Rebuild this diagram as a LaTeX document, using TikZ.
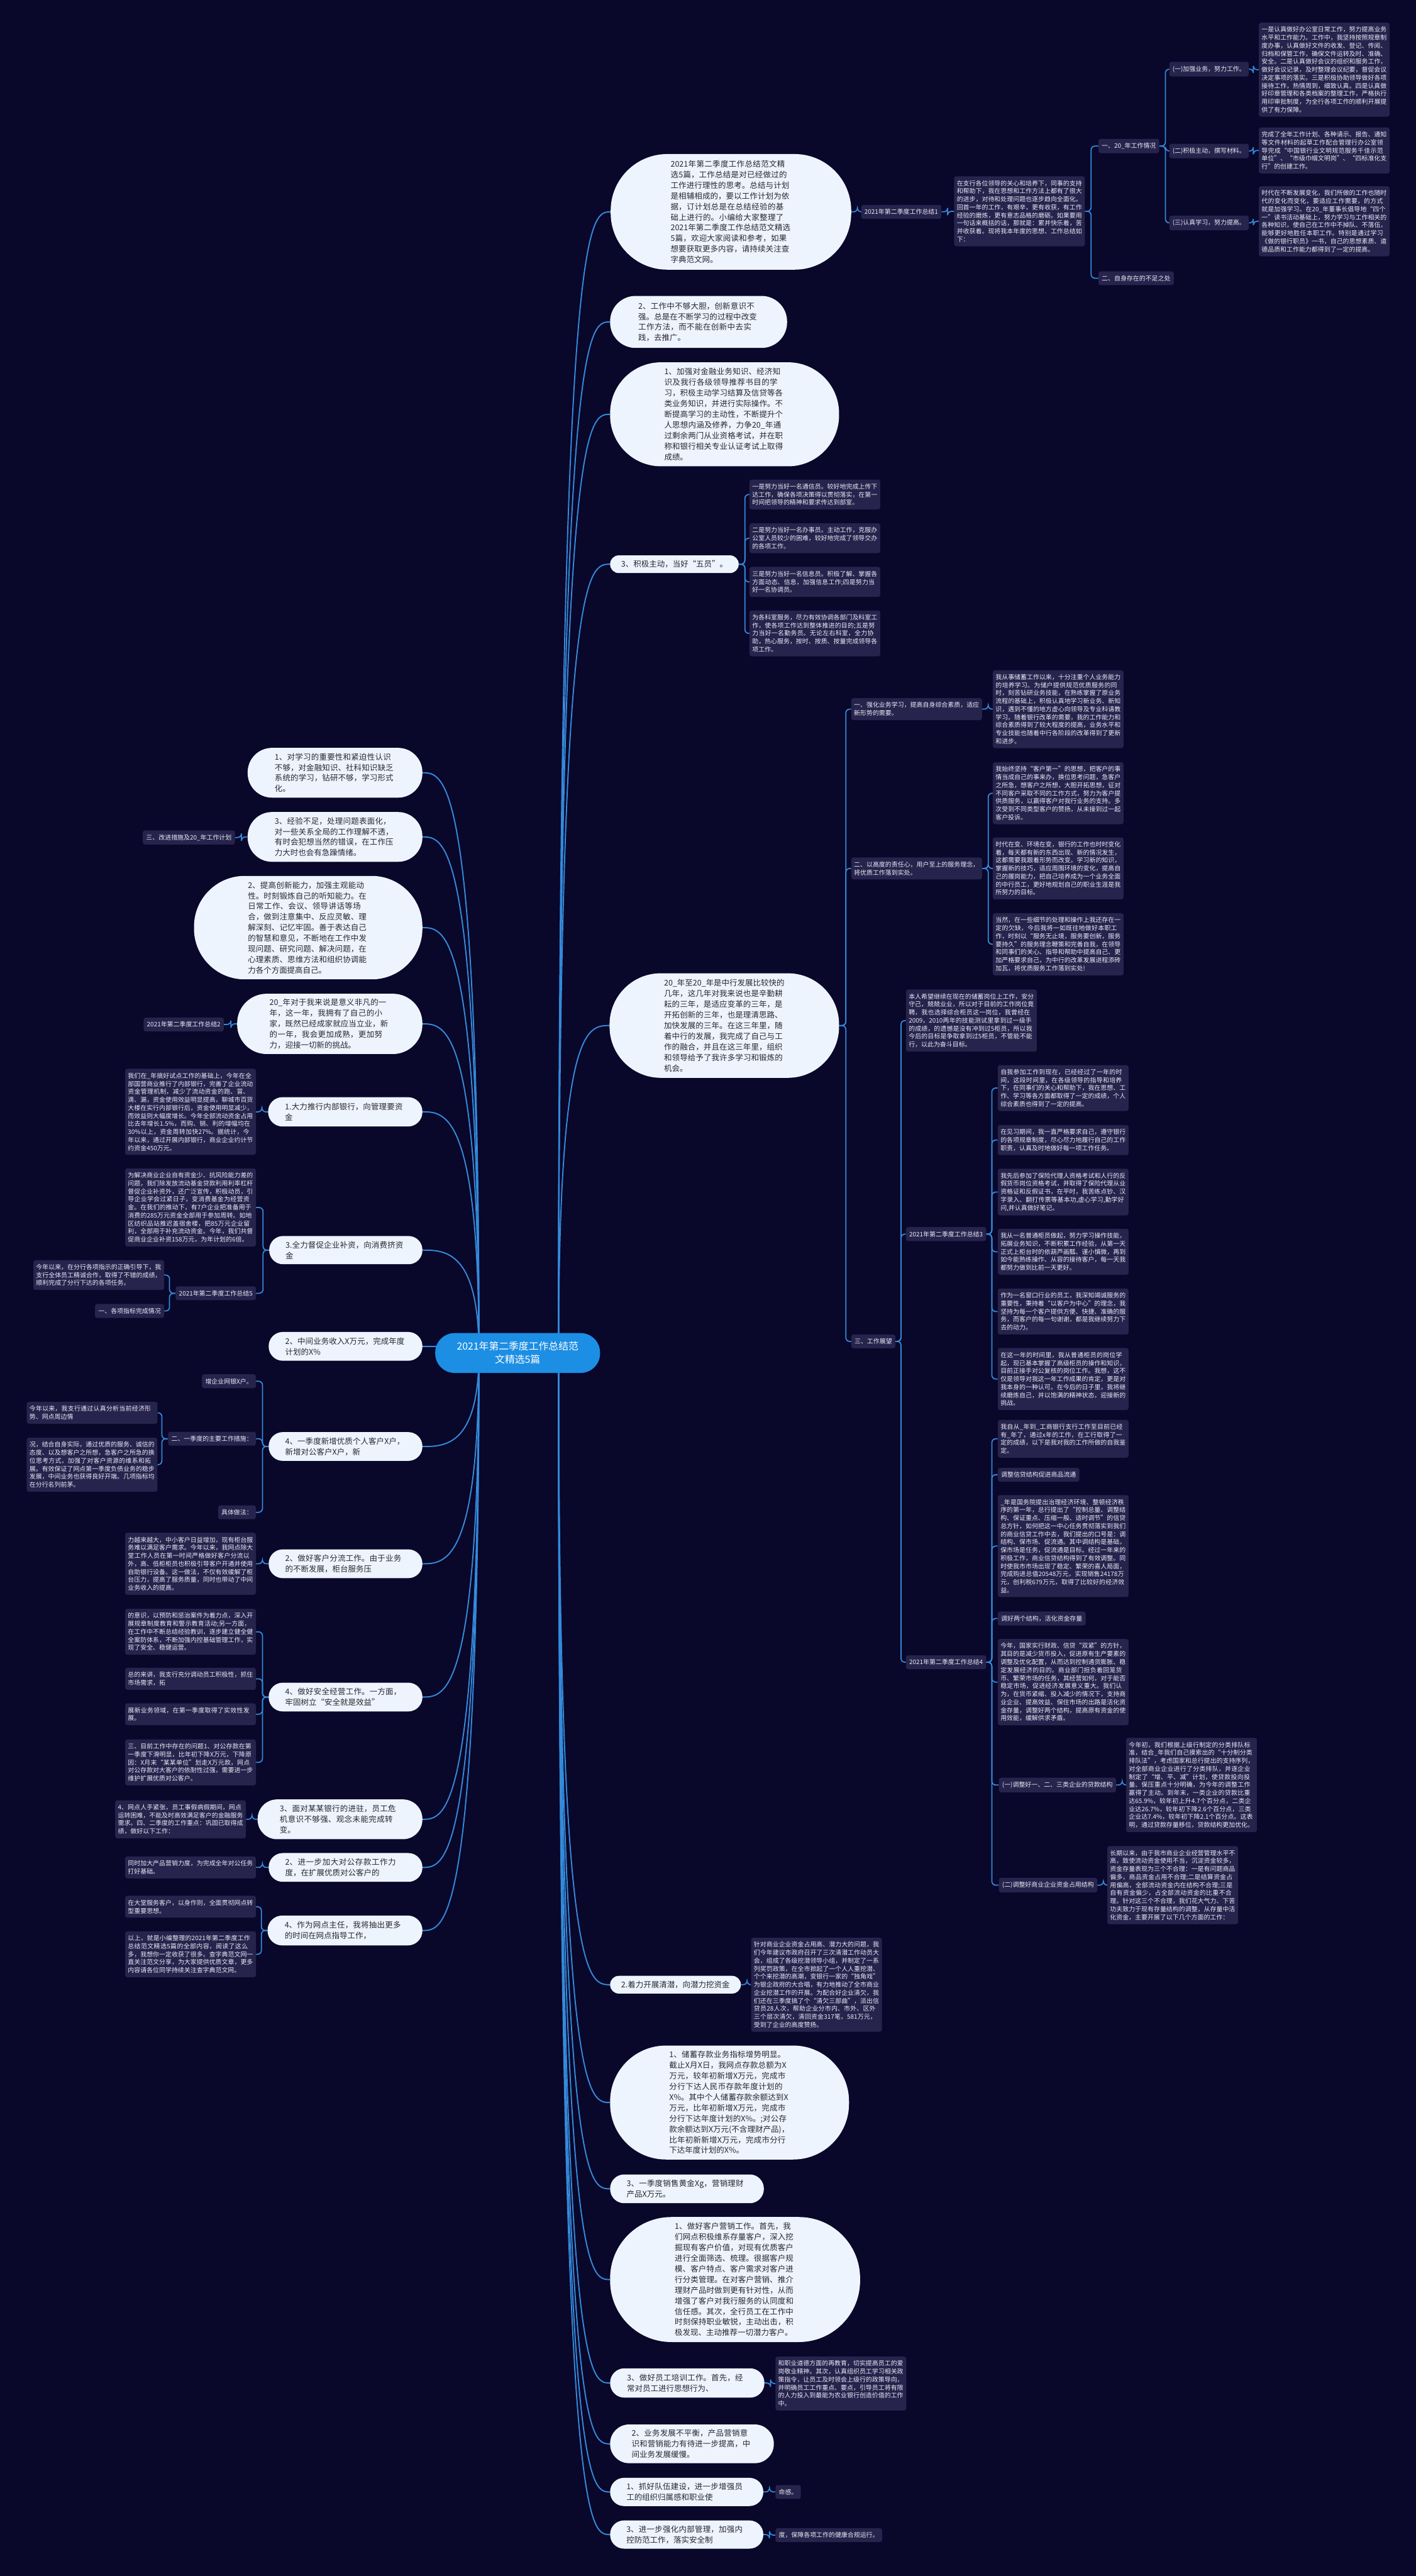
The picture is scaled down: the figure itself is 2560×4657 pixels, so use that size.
\documentclass[tikz,border=0pt]{standalone}
\usepackage{fontspec}
\setmainfont{Noto Sans CJK SC}
\XeTeXlinebreaklocale "zh"
\XeTeXlinebreakskip=0pt plus 1pt

\definecolor{bgnavy}{RGB}{9,7,42}
\definecolor{boxfill}{RGB}{38,35,76}
\definecolor{boxtext}{RGB}{236,236,246}
\definecolor{pillwhite}{RGB}{238,244,253}
\definecolor{pilltext}{RGB}{40,40,48}
\definecolor{linkblue}{RGB}{52,138,218}
\definecolor{hubblue}{RGB}{28,142,228}

\newcommand\smallfont{\fontsize{11.3pt}{14.5pt}\selectfont}
\newcommand\bigfont{\fontsize{14.2pt}{19.2pt}\selectfont}
\newcommand\hubfont{\fontsize{18pt}{24pt}\selectfont}

\pgfdeclarelayer{bg}
\pgfdeclarelayer{links}
\pgfsetlayers{bg,links,main}

\tikzset{every picture/.style={line width=0.75pt}}
\tikzset{
  pillone/.style={rectangle, fill=pillwhite, text=pilltext, font=\bigfont, inner ysep=6pt, minimum height=#1, rounded corners=0.49*#1, inner xsep=0.5*#1+4},
  pill/.style={pillone=#1, align=left, text width=218pt},
  txtbox/.style={rectangle, rounded corners=4pt, fill=boxfill, text=boxtext, font=\smallfont, inner xsep=5pt, inner ysep=7.3pt, align=left, text width=226.5pt},
  lbl/.style={rectangle, rounded corners=4pt, fill=boxfill, text=boxtext, font=\smallfont, inner xsep=6pt, inner ysep=7.3pt},
  link/.style={draw=linkblue, line width=2pt, rounded corners=7pt},
  mainlink/.style={draw=linkblue, line width=2.2pt}
}

\begin{document}
\begin{tikzpicture}[x=1pt,y=1pt,yscale=-1]
\useasboundingbox (0,0) rectangle (2560,4657);
\begin{pgfonlayer}{bg}
\fill[bgnavy] (0,0) rectangle (2560,4657);
\end{pgfonlayer}

% Centre
\node[rectangle, fill=hubblue, text=white, font=\hubfont, align=center, minimum width=298, minimum height=72, rounded corners=35, inner xsep=8, inner ysep=6] (ctr) at (936,2446) {2021年第二季度工作总结范\\文精选5篇};
\coordinate (hubL) at (866,2446);
\coordinate (hubR) at (1010,2446);

% Text Node -- right, summary 1
\node[pill=209, anchor=west] (R1) at (1104,383) {2021年第二季度工作总结范文精选5篇，工作总结是对已经做过的工作进行理性的思考。总结与计划是相辅相成的，要以工作计划为依据，订计划总是在总结经验的基础上进行的。小编给大家整理了2021年第二季度工作总结范文精选5篇，欢迎大家阅读和参考，如果想要获取更多内容，请持续关注查字典范文网。};
\node[lbl, anchor=west] (r1a) at (1557,383) {2021年第二季度工作总结1};
\node[txtbox, anchor=west] (r1b) at (1725,382) {在支行各位领导的关心和培养下，同事的支持和帮助下，我在思想和工作方法上都有了很大的进步，对待和处理问题也逐步趋向全面化。回首一年的工作，有艰辛，更有收获，有工作经验的磨炼，更有意志品格的磨砺。如果要用一句话来概括的话，那就是：累并快乐着，苦并收获着。现将我本年度的思想、工作总结如下：};
\node[lbl, anchor=west] (r1c) at (1986,264) {一、20\_年工作情况};
\node[lbl, anchor=west] (r1d) at (1986,503) {二、自身存在的不足之处};
\node[lbl, anchor=west] (r1e) at (2114,125) {(一)加强业务，努力工作。};
\node[lbl, anchor=west] (r1f) at (2114,273) {(二)积极主动，撰写材料。};
\node[lbl, anchor=west] (r1g) at (2114,403) {(三)认真学习，努力提高。};
\node[txtbox, anchor=west] (r1h) at (2276,126) {一是认真做好办公室日常工作，努力提高业务水平和工作能力。工作中，我坚持按照规章制度办事，认真做好文件的收发、登记、传阅、归档和保管工作，确保文件运转及时、准确、安全。二是认真做好会议的组织和服务工作，做好会议记录，及时整理会议纪要，督促会议决定事项的落实。三是积极协助领导做好各项接待工作，热情周到，细致认真。四是认真做好印章管理和各类档案的整理工作，严格执行用印审批制度，为全行各项工作的顺利开展提供了有力保障。};
\node[txtbox, anchor=west] (r1i) at (2276,272) {完成了全年工作计划、各种请示、报告、通知等文件材料的起草工作配合管理行办公室领导完成“中国银行业文明规范服务千佳示范单位”、“市级巾帼文明岗”、“四标准化支行”的创建工作。};
\node[txtbox, anchor=west] (r1j) at (2276,400) {时代在不断发展变化，我们所做的工作也随时代的变化而变化，要适应工作需要，的方式就是加强学习。在20\_年董事长倡导地“四个一”读书活动基础上，努力学习与工作相关的各种知识，使自己在工作中不掉队、不落伍，能够更好地胜任本职工作。特别是通过学习《做的银行职员》一书，自己的思想素质、道德品质和工作能力都得到了一定的提高。};

% Text Node -- right, upper pills
\node[pill=94, anchor=west] (R2) at (1103,582) {2、工作中不够大胆，创新意识不强。总是在不断学习的过程中改变工作方法，而不能在创新中去实践，去推广。};
\node[pill=188, anchor=west] (R3) at (1103,749) {1、加强对金融业务知识、经济知识及我行各级领导推荐书目的学习，积极主动学习结算及信贷等各类业务知识，并进行实际操作。不断提高学习的主动性，不断提升个人思想内涵及修养，力争20\_年通过剩余两门从业资格考试，并在职称和银行相关专业认证考试上取得成绩。};
\node[pillone=32, anchor=west] (R4) at (1103,1020) {3、积极主动，当好“五员”。};
\node[txtbox, anchor=west] (r4a) at (1355,894) {一是努力当好一名通信员。较好地完成上传下达工作，确保各项决策得以贯彻落实，在第一时间把领导的精神和要求传达到部室。};
\node[txtbox, anchor=west] (r4b) at (1355,973) {二是努力当好一名办事员。主动工作，克服办公室人员较少的困难，较好地完成了领导交办的各项工作。};
\node[txtbox, anchor=west] (r4c) at (1355,1052) {三是努力当好一名信息员。积极了解、掌握各方面动态、信息，加强信息工作;四是努力当好一名协调员。};
\node[txtbox, anchor=west] (r4d) at (1355,1145) {为各科室服务，尽力有效协调各部门及科室工作，使各项工作达到整体推进的目的;五是努力当好一名勤务员。无论左右科室，全力协助，热心服务，按时、按质、按量完成领导各项工作。};

% Text Node -- right, summary 3 and 4
\node[pill=189, anchor=west] (R5) at (1102,1854) {20\_年至20\_年是中行发展比较快的几年，这几年对我来说也是辛勤耕耘的三年，是适应变革的三年，是开拓创新的三年，也是理清思路、加快发展的三年。在这三年里，随着中行的发展，我完成了自己与工作的融合，并且在这三年里，组织和领导给予了我许多学习和锻炼的机会。};
\node[txtbox, anchor=west] (r5a) at (1539,1282) {一、强化业务学习，提高自身综合素质，适应新形势的需要。};
\node[txtbox, anchor=west] (r5a1) at (1795,1282) {我从事储蓄工作以来，十分注重个人业务能力的培养学习。为储户提供规范优质服务的同时，刻苦钻研业务技能，在熟练掌握了原业务流程的基础上，积极认真地学习新业务、新知识，遇到不懂的地方虚心向领导及专业科请教学习。随着银行改革的需要，我的工作能力和综合素质得到了较大程度的提高，业务水平和专业技能也随着中行各阶段的改革得到了更新和进步。};
\node[txtbox, anchor=west] (r5b) at (1539,1570) {二、以高度的责任心，用户至上的服务理念，将优质工作落到实处。};
\node[txtbox, anchor=west] (r5b1) at (1795,1434) {我始终坚持“客户第一”的思想，把客户的事情当成自己的事来办，换位思考问题，急客户之所急，想客户之所想，大胆开拓思想，征对不同客户采取不同的工作方式，努力为客户提供质服务，以赢得客户对我行业务的支持。多次受到不同类型客户的赞扬，从未接到过一起客户投诉。};
\node[txtbox, anchor=west] (r5b2) at (1795,1570) {时代在变、环境在变，银行的工作也时时变化着，每天都有新的东西出现、新的情况发生，这都需要我跟着形势而改变。学习新的知识，掌握新的技巧，适应周围环境的变化，提高自己的履岗能力，把自己培养成为一个业务全面的中行员工，更好地规划自己的职业生涯是我所努力的目标。};
\node[txtbox, anchor=west] (r5b3) at (1795,1707) {当然，在一些细节的处理和操作上我还存在一定的欠缺，今后我将一如既往地做好本职工作，时刻以“服务无止境，服务要创新，服务要持久”的服务理念鞭策和完善自我，在领导和同事们的关心、指导和帮助中提高自己、更加严格要求自己，为中行的改革发展进程添砖加瓦，将优质服务工作落到实处!};
\node[lbl, anchor=west] (r5c) at (1539,2425) {三、工作展望};
\node[txtbox, anchor=west] (r5c1) at (1638,1845) {本人希望继续在现在的储蓄岗位上工作，安分守己，兢兢业业，所以对于目前的工作岗位竟聘，我也选择综合柜员这一岗位，我曾经在2009，2010两年的技能测试里拿到过一级手的成绩，的遗憾是没有冲到过5柜员，所以我今后的目标是争取拿到过5柜员，不管能不能行，以此为奋斗目标。};
\node[lbl, anchor=west] (s3) at (1638,2231) {2021年第二季度工作总结3};
\node[txtbox, anchor=west] (s3a) at (1804,1967) {自我参加工作到现在，已经经过了一年的时间，这段时间里，在各级领导的指导和培养下，在同事们的关心和帮助下，我在思想、工作、学习等各方面都取得了一定的成绩，个人综合素质也得到了一定的提高。};
\node[txtbox, anchor=west] (s3b) at (1804,2061) {在见习期间，我一直严格要求自己，遵守银行的各项规章制度，尽心尽力地履行自己的工作职责，认真及时地做好每一项工作任务。};
\node[txtbox, anchor=west] (s3c) at (1804,2155) {我先后参加了保险代理人资格考试和人行的反假货币岗位资格考试，并取得了保险代理从业资格证和反假证书，在平时，我苦练点钞、汉字录入、翻打传票等基本功,虚心学习,勤学好问,并认真做好笔记。};
\node[txtbox, anchor=west] (s3d) at (1804,2263) {我从一名普通柜员做起，努力学习操作技能，拓展业务知识，不断积累工作经验，从第一天正式上柜台时的依葫芦画瓢、谨小慎微，再到如今能熟练操作、从容的接待客户，每一天我都努力做到比前一天更好。};
\node[txtbox, anchor=west] (s3e) at (1804,2371) {作为一名窗口行业的员工，我深知竭诚服务的重要性，秉持着“以客户为中心”的理念，我坚持为每一个客户提供方便、快捷、准确的服务，而客户的每一句谢谢，都是我继续努力下去的动力。};
\node[txtbox, anchor=west] (s3f) at (1804,2493) {在这一年的时间里，我从普通柜员的岗位学起，现已基本掌握了高级柜员的操作和知识，目前正接手对公复核的岗位工作。我想，这不仅是领导对我这一年工作成果的肯定，更是对我本身的一种认可。在今后的日子里，我将继续磨炼自己，并以饱满的精神状态，迎接新的挑战。};
\node[lbl, anchor=west] (s4) at (1638,3005) {2021年第二季度工作总结4};
\node[txtbox, anchor=west] (s4a) at (1804,2601) {我自从\_年到\_工商银行支行工作至目前已经有\_年了，通过x年的工作，在工行取得了一定的成绩，以下是我对我的工作所做的自我鉴定。};
\node[lbl, anchor=west] (s4b) at (1804,2666) {调整信贷结构促进商品流通};
\node[txtbox, anchor=west] (s4c) at (1804,2795) {\_年是国务院提出治理经济环境、整顿经济秩序的第一年，总行提出了“控制总量、调整结构、保证重点、压缩一般、适时调节”的信贷总方针，如何把这一中心任务贯彻落实到我们的商业信贷工作中去，我们提出的口号是：调结构、保市场、促流通。其中调结构是基础，保市场是任务，促流通是目标。经过一年来的积极工作，商业信贷结构得到了有效调整。同时使我市市场出现了稳定、繁荣的喜人局面，完成购进总值20548万元，实现销售24178万元，创利税679万元，取得了比较好的经济效益。};
\node[lbl, anchor=west] (s4d) at (1804,2926) {调好两个结构，活化资金存量};
\node[txtbox, anchor=west] (s4e) at (1804,3041) {今年，国家实行财政、信贷“双紧”的方针，其目的是减少货币投入，促进原有生产要素的调整及优化配置，从而达到控制通货膨胀、稳定发展经济的目的。商业部门担负着回笼货币、繁荣市场的任务，其经营如何，对于能否稳定市场，促进经济发展意义重大。我们认为，在货币紧缩、投入减少的情况下，支持商业企业、提高效益、保住市场的出路是活化资金存量，调整好两个结构，提高原有资金的使用效能，缓解供求矛盾。};
\node[lbl, anchor=west] (s4f) at (1806,3227) {(一)调整好一、二、三类企业的贷款结构};
\node[txtbox, anchor=west] (s4f1) at (2036,3227) {今年初，我们根据上级行制定的分类排队标准，结合\_年我们自己摸索出的“十分制分类排队法”，考虑国家和总行提出的支持序列，对全部商业企业进行了分类排队，并逐企业制定了“增、平、减”计划，使贷款投向投量、保压重点十分明确，为今年的调整工作赢得了主动。到年末，一类企业的贷款比重达65.9\%，较年初上升4.7个百分点，二类企业达26.7\%，较年初下降2.6个百分点，三类企业达7.4\%，较年初下降2.1个百分点。这表明，通过贷款存量移位，贷款结构更加优化。};
\node[lbl, anchor=west] (s4g) at (1806,3408) {(二)调整好商业企业资金占用结构};
\node[txtbox, anchor=west] (s4g1) at (2002,3408) {长期以来，由于我市商业企业经营管理水平不高，致使流动资金使用不当，沉淀资金较多，资金存量表现为三个不合理：一是有问题商品偏多，商品资金占用不合理;二是结算资金占用偏高，全部流动资金内在结构不合理;三是自有资金偏少，占全部流动资金的比重不合理。针对这三个不合理，我们花大气力、下苦功夫致力于现有存量结构的调整，从存量中活化资金，主要开展了以下几个方面的工作：};

% Text Node -- right, lower pills
\node[pillone=32, anchor=west] (R6) at (1103,3588) {2.着力开展清潜，向潜力挖资金};
\node[txtbox, anchor=west] (r6a) at (1358,3588) {针对商业企业资金占用高、潜力大的问题，我们今年建议市政府召开了三次清潜工作动员大会，组成了各级挖潜领导小组，并制定了一系列奖罚政策，在全市掀起了一个人人重挖潜、个个来挖潜的高潮，变银行一家的“独角戏”为银企政府的大合唱，有力地推动了全市商业企业挖潜工作的开展。为配合好企业清欠，我们还在三季度搞了个“清欠三部曲”，派出信贷员28人次，帮助企业分市内、市外、区外三个层次清欠，清回资金317笔，581万元，受到了企业的高度赞扬。};
\node[pill=206, anchor=west] (R7) at (1103,3801) {1、储蓄存款业务指标增势明显。截止X月X日，我网点存款总额为X万元，较年初新增X万元，完成市分行下达人民币存款年度计划的X\%。其中个人储蓄存款余额达到X万元，比年初新增X万元，完成市分行下达年度计划的X\%。;对公存款余额达到X万元(不含理财产品)，比年初新新增X万元，完成市分行下达年度计划的X\%。};
\node[pill=52, anchor=west] (R8) at (1103,3957) {3、一季度销售黄金Xg，营销理财产品X万元。};
\node[pill=226, anchor=west] (R9) at (1103,4121) {1、做好客户营销工作。首先，我们网点积极维系存量客户，深入挖掘现有客户价值，对现有优质客户进行全面筛选、梳理。很据客户规模、客户特点、客户需求对客户进行分类管理。在对客户营销、推介理财产品时做到更有针对性，从而增强了客户对我行服务的认同度和信任感。其次，全行员工在工作中时刻保持职业敏锐，主动出击，积极发现、主动推荐一切潜力客户。};
\node[pill=53, anchor=west] (R10) at (1103,4308) {3、做好员工培训工作。首先，经常对员工进行思想行为、};
\node[txtbox, anchor=west] (r10a) at (1402,4309) {和职业道德方面的再教育，切实提高员工的爱岗敬业精神。其次，认真组织员工学习相关政策指令，让员工及时领会上级行的政策导向，并明确员工工作重点、要点，引导员工将有限的人力投入到最能为农业银行创造价值的工作中。};
\node[pill=70, anchor=west] (R11) at (1103,4418) {2、业务发展不平衡，产品营销意识和营销能力有待进一步提高，中间业务发展缓慢。};
\node[pill=51, anchor=west] (R12) at (1103,4505) {1、抓好队伍建设，进一步增强员工的组织归属感和职业使};
\node[lbl, anchor=west] (r12a) at (1402,4505) {命感。};
\node[pill=51, anchor=west] (R13) at (1103,4582) {3、进一步强化内部管理，加强内控防范工作，落实安全制};
\node[lbl, anchor=west] (r13a) at (1402,4583) {度，保障各项工作的健康合规运行。};

% Text Node -- left
\node[pill=90, anchor=east] (L1) at (764,1397) {1、对学习的重要性和紧迫性认识不够，对金融知识、社科知识缺乏系统的学习，钻研不够，学习形式化。};
\node[pill=90, anchor=east] (L2) at (764,1513) {3、经验不足，处理问题表面化，对一些关系全局的工作理解不透，有时会犯想当然的错误，在工作压力大时也会有急躁情绪。};
\node[lbl, anchor=east] (l2a) at (425,1514) {三、改进措施及20\_年工作计划};
\node[pill=187, anchor=east] (L3) at (764,1677) {2、提高创新能力，加强主观能动性。时刻锻炼自己的听知能力。在日常工作、会议、领导讲话等场合，做到注意集中、反应灵敏、理解深刻、记忆牢固。善于表达自己的智慧和意见，不断地在工作中发现问题、研究问题、解决问题，在心理素质、思维方法和组织协调能力各个方面提高自己。};
\node[pill=109, anchor=east] (L4) at (764,1851) {20\_年对于我来说是意义非凡的一年，这一年，我拥有了自己的小家，既然已经成家就应当立业，新的一年，我会更加成熟，更加努力，迎接一切新的挑战。};
\node[lbl, anchor=east] (l4a) at (405,1852) {2021年第二季度工作总结2};
\node[pill=53, anchor=east] (L5) at (764,2010) {1.大力推行内部银行，向管理要资金};
\node[txtbox, anchor=east] (l5a) at (463,2010) {我们在\_年搞好试点工作的基础上，今年在全部国营商业推行了内部银行，完善了企业流动资金管理机制，减少了流动资金的跑、冒、滴、漏，资金使用效益明显提高，聊城市百货大楼在实行内部银行后，资金使用明显减少，而效益则大幅度增长。今年全部流动资金占用比去年增长1.5\%，而购、销、利的增幅均在30\%以上，资金周转加快27\%。据统计，今年以来，通过开展内部银行，商业企业约计节约资金450万元。};
\node[pill=51, anchor=east] (L6) at (764,2260) {3.全力督促企业补资，向消费挤资金};
\node[txtbox, anchor=east] (l6a) at (463,2183) {为解决商业企业自有资金少、抗风险能力差的问题，我们除发放流动基金贷款利用利率杠杆督促企业补资外，还广泛宣传，积极动员，引导企业学会过紧日子，变消费基金为经营资金。在我们的推动下，有7户企业把准备用于消费的285万元资金全部用于参加周转。如地区纺织品站推迟盖宿舍楼，把85万元企业留利，全部用于补充流动资金。今年，我们共督促商业企业补资158万元，为年计划的6倍。};
\node[lbl, anchor=east] (l6b) at (463,2338) {2021年第二季度工作总结5};
\node[txtbox, anchor=east] (l6b1) at (297,2305) {今年以来，在分行各项指示的正确引导下，我支行全体员工精诚合作，取得了不错的成绩，顺利完成了分行下达的各项任务。};
\node[lbl, anchor=east] (l6b2) at (297,2370) {一、各项指标完成情况};
\node[pill=52, anchor=east] (L7) at (764,2434) {2、中间业务收入X万元，完成年度计划的X\%};
\node[pill=52, anchor=east] (L8) at (764,2615) {4、一季度新增优质个人客户X户，新增对公客户X户，新};
\node[lbl, anchor=east] (l8a) at (463,2497) {增企业网银X户。};
\node[lbl, anchor=east] (l8b) at (463,2601) {二、一季度的主要工作措施：};
\node[lbl, anchor=east] (l8c) at (463,2734) {具体做法：};
\node[txtbox, anchor=east] (l8b1) at (285,2554) {今年以来，我支行通过认真分析当前经济形势、网点周边情};
\node[txtbox, anchor=east] (l8b2) at (285,2648) {况，结合自身实际，通过优质的服务、诚信的态度、以及想客户之所想，急客户之所急的换位思考方式，加强了对客户资源的维系和拓展。有效保证了网点第一季度负债业务的稳步发展，中间业务也获得良好开端。几项指标均在分行名列前茅。};
\node[pill=52, anchor=east] (L9) at (764,2827) {2、做好客户分流工作。由于业务的不断发展，柜台服务压};
\node[txtbox, anchor=east] (l9a) at (463,2827) {力越来越大，中小客户日益增加，现有柜台服务难以满足客户需求。今年以来，我网点除大堂工作人员在第一时间严格做好客户分流以外，高、低柜柜员也积极引导客户开通并使用自助银行设备。这一做法，不仅有效缓解了柜台压力，提高了服务质量，同时也带动了中间业务收入的提高。};
\node[pill=52, anchor=east] (L10) at (764,3068) {4、做好安全经营工作。一方面，牢固树立“安全就是效益”};
\node[txtbox, anchor=east] (l10a) at (463,2950) {的意识，以预防和惩治案件为着力点，深入开展规章制度教育和警示教育活动;另一方面，在工作中不断总结经验教训，逐步建立健全健全案防体系，不断加强内控基础管理工作，实现了安全、稳健运营。};
\node[txtbox, anchor=east] (l10b) at (463,3035) {总的来讲，我支行充分调动员工积极性，抓住市场需求，拓};
\node[txtbox, anchor=east] (l10c) at (463,3099) {展新业务领域，在第一季度取得了实效性发展。};
\node[txtbox, anchor=east] (l10d) at (463,3186) {三、目前工作中存在的问题1、对公存款在第一季度下滑明显，比年初下降X万元，下降原因：X月末“某某单位”划走X万元款，网点对公存款对大客户的依耐性过强，需要进一步维护扩展优质对公客户。};
\node[pill=72, anchor=east] (L11) at (764,3289) {3、面对某某银行的进驻，员工危机意识不够强、观念未能完成转变。};
\node[txtbox, anchor=east] (l11a) at (445,3289) {4、网点人手紧张，员工事假病假期间，网点运转困难，不能及时高效满足客户的金融服务需求。四、二季度的工作重点：巩固已取得成绩，做好以下工作：};
\node[pill=52, anchor=east] (L12) at (764,3376) {2、进一步加大对公存款工作力度，在扩展优质对公客户的};
\node[txtbox, anchor=east] (l12a) at (463,3376) {同时加大产品营销力度，为完成全年对公任务打好基础。};
\node[pill=54, anchor=east] (L13) at (764,3490) {4、作为网点主任，我将抽出更多的时间在网点指导工作，};
\node[txtbox, anchor=east] (l13a) at (463,3447) {在大堂服务客户，以身作则，全面贯彻网点转型重要思想。};
\node[txtbox, anchor=east] (l13b) at (463,3533) {以上，就是小编整理的2021年第二季度工作总结范文精选5篇的全部内容，阅读了这么多，我想你一定收获了很多。查字典范文网一直关注范文分享，为大家提供优质文章，更多内容请各位同学持续关注查字典范文网。};

\begin{pgfonlayer}{links}
%Curve Lines -- centre to right
\draw[mainlink] (hubR) .. controls (hubR |- R1.west) and ([xshift=-40pt]R1.west) .. (R1.west);
\draw[mainlink] (hubR) .. controls (hubR |- R2.west) and ([xshift=-40pt]R2.west) .. (R2.west);
\draw[mainlink] (hubR) .. controls (hubR |- R3.west) and ([xshift=-40pt]R3.west) .. (R3.west);
\draw[mainlink] (hubR) .. controls (hubR |- R4.west) and ([xshift=-40pt]R4.west) .. (R4.west);
\draw[mainlink] (hubR) .. controls (hubR |- R5.west) and ([xshift=-40pt]R5.west) .. (R5.west);
\draw[mainlink] (hubR) .. controls (hubR |- R6.west) and ([xshift=-40pt]R6.west) .. (R6.west);
\draw[mainlink] (hubR) .. controls (hubR |- R7.west) and ([xshift=-40pt]R7.west) .. (R7.west);
\draw[mainlink] (hubR) .. controls (hubR |- R8.west) and ([xshift=-40pt]R8.west) .. (R8.west);
\draw[mainlink] (hubR) .. controls (hubR |- R9.west) and ([xshift=-40pt]R9.west) .. (R9.west);
\draw[mainlink] (hubR) .. controls (hubR |- R10.west) and ([xshift=-40pt]R10.west) .. (R10.west);
\draw[mainlink] (hubR) .. controls (hubR |- R11.west) and ([xshift=-40pt]R11.west) .. (R11.west);
\draw[mainlink] (hubR) .. controls (hubR |- R12.west) and ([xshift=-40pt]R12.west) .. (R12.west);
\draw[mainlink] (hubR) .. controls (hubR |- R13.west) and ([xshift=-40pt]R13.west) .. (R13.west);
%Curve Lines -- centre to left
\draw[mainlink] (hubL) .. controls (hubL |- L1.east) and ([xshift=40pt]L1.east) .. (L1.east);
\draw[mainlink] (hubL) .. controls (hubL |- L2.east) and ([xshift=40pt]L2.east) .. (L2.east);
\draw[mainlink] (hubL) .. controls (hubL |- L3.east) and ([xshift=40pt]L3.east) .. (L3.east);
\draw[mainlink] (hubL) .. controls (hubL |- L4.east) and ([xshift=40pt]L4.east) .. (L4.east);
\draw[mainlink] (hubL) .. controls (hubL |- L5.east) and ([xshift=40pt]L5.east) .. (L5.east);
\draw[mainlink] (hubL) .. controls (hubL |- L6.east) and ([xshift=40pt]L6.east) .. (L6.east);
\draw[mainlink] (hubL) .. controls (hubL |- L7.east) and ([xshift=40pt]L7.east) .. (L7.east);
\draw[mainlink] (hubL) .. controls (hubL |- L8.east) and ([xshift=40pt]L8.east) .. (L8.east);
\draw[mainlink] (hubL) .. controls (hubL |- L9.east) and ([xshift=40pt]L9.east) .. (L9.east);
\draw[mainlink] (hubL) .. controls (hubL |- L10.east) and ([xshift=40pt]L10.east) .. (L10.east);
\draw[mainlink] (hubL) .. controls (hubL |- L11.east) and ([xshift=40pt]L11.east) .. (L11.east);
\draw[mainlink] (hubL) .. controls (hubL |- L12.east) and ([xshift=40pt]L12.east) .. (L12.east);
\draw[mainlink] (hubL) .. controls (hubL |- L13.east) and ([xshift=40pt]L13.east) .. (L13.east);

%Elbow Lines -- right
\draw[link] (R1.east) -- ++(11,0) |- (r1a.west);
\draw[link] (r1a.east) -- ++(11,0) |- (r1b.west);
\draw[link] (r1b.east) -- ++(11,0) |- (r1c.west);
\draw[link] (r1b.east) -- ++(11,0) |- (r1d.west);
\draw[link] (r1c.east) -- ++(11,0) |- (r1e.west);
\draw[link] (r1c.east) -- ++(11,0) |- (r1f.west);
\draw[link] (r1c.east) -- ++(11,0) |- (r1g.west);
\draw[link] (r1e.east) -- ++(8,0) |- (r1h.west);
\draw[link] (r1f.east) -- ++(8,0) |- (r1i.west);
\draw[link] (r1g.east) -- ++(8,0) |- (r1j.west);
\draw[link] (R4.east) -- ++(11,0) |- (r4a.west);
\draw[link] (R4.east) -- ++(11,0) |- (r4b.west);
\draw[link] (R4.east) -- ++(11,0) |- (r4c.west);
\draw[link] (R4.east) -- ++(11,0) |- (r4d.west);
\draw[link] (R5.east) -- ++(12,0) |- (r5a.west);
\draw[link] (R5.east) -- ++(12,0) |- (r5b.west);
\draw[link] (R5.east) -- ++(12,0) |- (r5c.west);
\draw[link] (r5a.east) -- ++(11,0) |- (r5a1.west);
\draw[link] (r5b.east) -- ++(11,0) |- (r5b1.west);
\draw[link] (r5b.east) -- ++(11,0) |- (r5b2.west);
\draw[link] (r5b.east) -- ++(11,0) |- (r5b3.west);
\draw[link] (r5c.east) -- ++(10,0) |- (r5c1.west);
\draw[link] (r5c.east) -- ++(10,0) |- (s3.west);
\draw[link] (r5c.east) -- ++(10,0) |- (s4.west);
\draw[link] (s3.east) -- ++(10,0) |- (s3a.west);
\draw[link] (s3.east) -- ++(10,0) |- (s3b.west);
\draw[link] (s3.east) -- ++(10,0) |- (s3c.west);
\draw[link] (s3.east) -- ++(10,0) |- (s3d.west);
\draw[link] (s3.east) -- ++(10,0) |- (s3e.west);
\draw[link] (s3.east) -- ++(10,0) |- (s3f.west);
\draw[link] (s4.east) -- ++(10,0) |- (s4a.west);
\draw[link] (s4.east) -- ++(10,0) |- (s4b.west);
\draw[link] (s4.east) -- ++(10,0) |- (s4c.west);
\draw[link] (s4.east) -- ++(10,0) |- (s4d.west);
\draw[link] (s4.east) -- ++(10,0) |- (s4e.west);
\draw[link] (s4.east) -- ++(10,0) |- (s4f.west);
\draw[link] (s4.east) -- ++(10,0) |- (s4g.west);
\draw[link] (s4f.east) -- ++(11,0) |- (s4f1.west);
\draw[link] (s4g.east) -- ++(11,0) |- (s4g1.west);
\draw[link] (R6.east) -- ++(11,0) |- (r6a.west);
\draw[link] (R10.east) -- ++(11,0) |- (r10a.west);
\draw[link] (R12.east) -- ++(11,0) |- (r12a.west);
\draw[link] (R13.east) -- ++(11,0) |- (r13a.west);

%Elbow Lines -- left
\draw[link] (L2.west) -- ++(-11,0) |- (l2a.east);
\draw[link] (L4.west) -- ++(-11,0) |- (l4a.east);
\draw[link] (L5.west) -- ++(-11,0) |- (l5a.east);
\draw[link] (L6.west) -- ++(-11,0) |- (l6a.east);
\draw[link] (L6.west) -- ++(-11,0) |- (l6b.east);
\draw[link] (l6b.west) -- ++(-11,0) |- (l6b1.east);
\draw[link] (l6b.west) -- ++(-11,0) |- (l6b2.east);
\draw[link] (L8.west) -- ++(-11,0) |- (l8a.east);
\draw[link] (L8.west) -- ++(-11,0) |- (l8b.east);
\draw[link] (L8.west) -- ++(-11,0) |- (l8c.east);
\draw[link] (l8b.west) -- ++(-11,0) |- (l8b1.east);
\draw[link] (l8b.west) -- ++(-11,0) |- (l8b2.east);
\draw[link] (L9.west) -- ++(-11,0) |- (l9a.east);
\draw[link] (L10.west) -- ++(-11,0) |- (l10a.east);
\draw[link] (L10.west) -- ++(-11,0) |- (l10b.east);
\draw[link] (L10.west) -- ++(-11,0) |- (l10c.east);
\draw[link] (L10.west) -- ++(-11,0) |- (l10d.east);
\draw[link] (L11.west) -- ++(-10,0) |- (l11a.east);
\draw[link] (L12.west) -- ++(-11,0) |- (l12a.east);
\draw[link] (L13.west) -- ++(-11,0) |- (l13a.east);
\draw[link] (L13.west) -- ++(-11,0) |- (l13b.east);
\end{pgfonlayer}
\end{tikzpicture}
\end{document}
